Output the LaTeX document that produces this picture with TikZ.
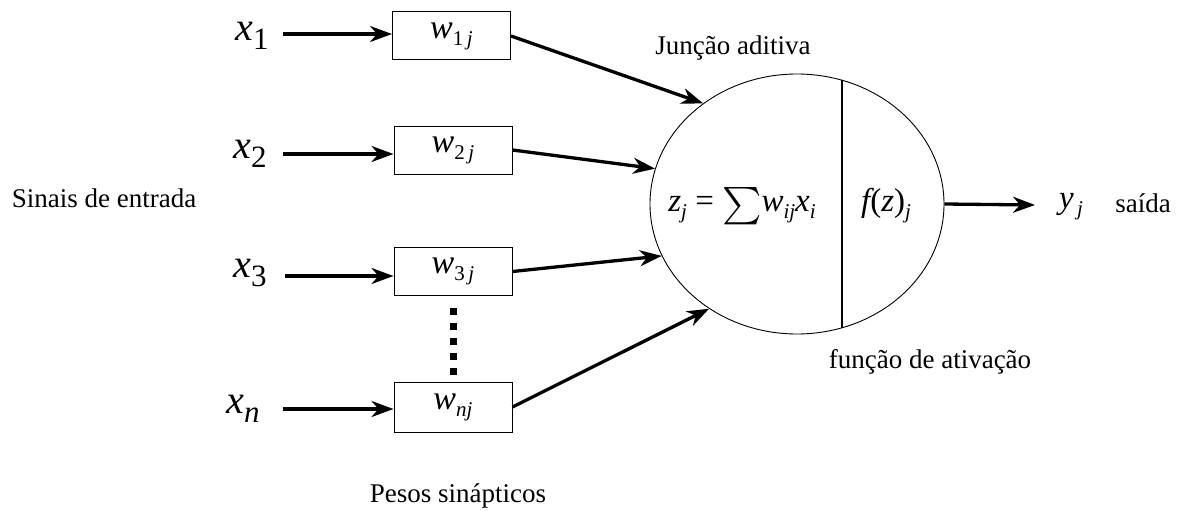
\documentclass[tikz,border=0pt]{standalone}
\usepackage{fontspec}
\setmainfont{Liberation Serif}
\usetikzlibrary{arrows.meta,shapes.geometric,calc}
\newcommand\inlab[1]{{\fontsize{40}{40}\selectfont\itshape x}\raisebox{-9pt}{\fontsize{31}{31}\selectfont #1}}
\newcommand\wlab[1]{{\fontsize{34}{34}\selectfont\itshape w}\raisebox{-7pt}{\fontsize{21}{21}\selectfont #1}}
\newcommand\msub[1]{\raisebox{-7pt}{\fontsize{21}{21}\selectfont\itshape #1}}
\newcommand\mbig[1]{{\fontsize{33}{33}\selectfont #1}}
\begin{document}
\begin{tikzpicture}[x=1pt,y=-1pt,
  wbox/.style={draw, line width=1pt, minimum width=118pt, minimum height=48pt, inner sep=0pt},
  sig/.style={line width=3.3pt, -{Stealth[length=22pt,width=16pt,inset=7pt]}},
  lbl/.style={font=\fontsize{27}{30}\selectfont, inner sep=0pt},
  mlab/.style={inner sep=0pt},
  dotsq/.style={line width=7pt, dash pattern=on 7pt off 8pt}]
\useasboundingbox[fill=white] (0,0) rectangle (1187,511);

% weight boxes
\node[wbox] (b1) at (451.5,36) {\wlab{1\,\textit{j}}};
\node[wbox] (b2) at (453,150) {\wlab{2\,\textit{j}}};
\node[wbox] (b3) at (453,271.5) {\wlab{3\,\textit{j}}};
\node[wbox, minimum height=50pt] (bn) at (453,407) {\wlab{\textit{nj}}};

% input labels
\node[mlab] (x1) at (252,36) {\inlab{1}};
\node[mlab] (x2) at (250,154) {\inlab{2}};
\node[mlab] (x3) at (250,273) {\inlab{3}};
\node[mlab] (xn) at (243,409) {\inlab{\textit{n}}};

% input arrows
\coordinate (s1) at (283,34);
\coordinate (s2) at (283,154);
\coordinate (s3) at (285,276);
\coordinate (sn) at (283,409);
\draw[sig] (s1) -- (s1 -| b1.west);
\draw[sig] (s2) -- (s2 -| b2.west);
\draw[sig] (s3) -- (s3 -| b3.west);
\draw[sig] (sn) -- (sn -| bn.west);

% dotted ellipsis between boxes
\draw[dotsq, shorten <=12pt, shorten >=6pt] (b3.south) -- (bn.north);

% neuron
\node[draw, ellipse, line width=0.9pt, minimum width=294pt, minimum height=260pt, inner sep=0pt] (c) at (797,204) {};
\draw[line width=2.4pt] (c.70.5) -- (c.-70.5);

\draw[sig] (b1.east) -- (c.133.2);
\draw[sig] (b2.east) -- (c.166);
\draw[sig] (b3.east) -- (c.201.8);
\draw[sig] (bn.east) -- (c.230.4);

% formulas
\node[mlab] (sum) at (742,206) {\mbig{\itshape z}\msub{j}\mbig{\ =\ }\raisebox{-4pt}{\resizebox{!}{28pt}{$\sum$}}\mbig{\itshape w}\msub{ij}\mbig{\itshape x}\msub{i}};
\node[mlab] (fz) at (886,206) {\mbig{\itshape f}\mbig{(\textit{z})}\msub{j}};

% output
\coordinate (yend) at (1035,205);
\draw[sig] (c.east) -- (yend);
\node[mlab] (y) at (1071,207) {\mbig{\itshape y}\msub{\,j}};
\node[lbl] (said) at (1143,203) {saída};

% text labels
\node[lbl] (sinais) at (104,198) {Sinais de entrada};
\node[lbl] (juncao) at (733,48) {Junção aditiva};
\node[lbl] (funcao) at (930,362) {função de ativação};
\node[lbl] (pesos) at (458,496) {Pesos sinápticos};
\end{tikzpicture}
\end{document}
